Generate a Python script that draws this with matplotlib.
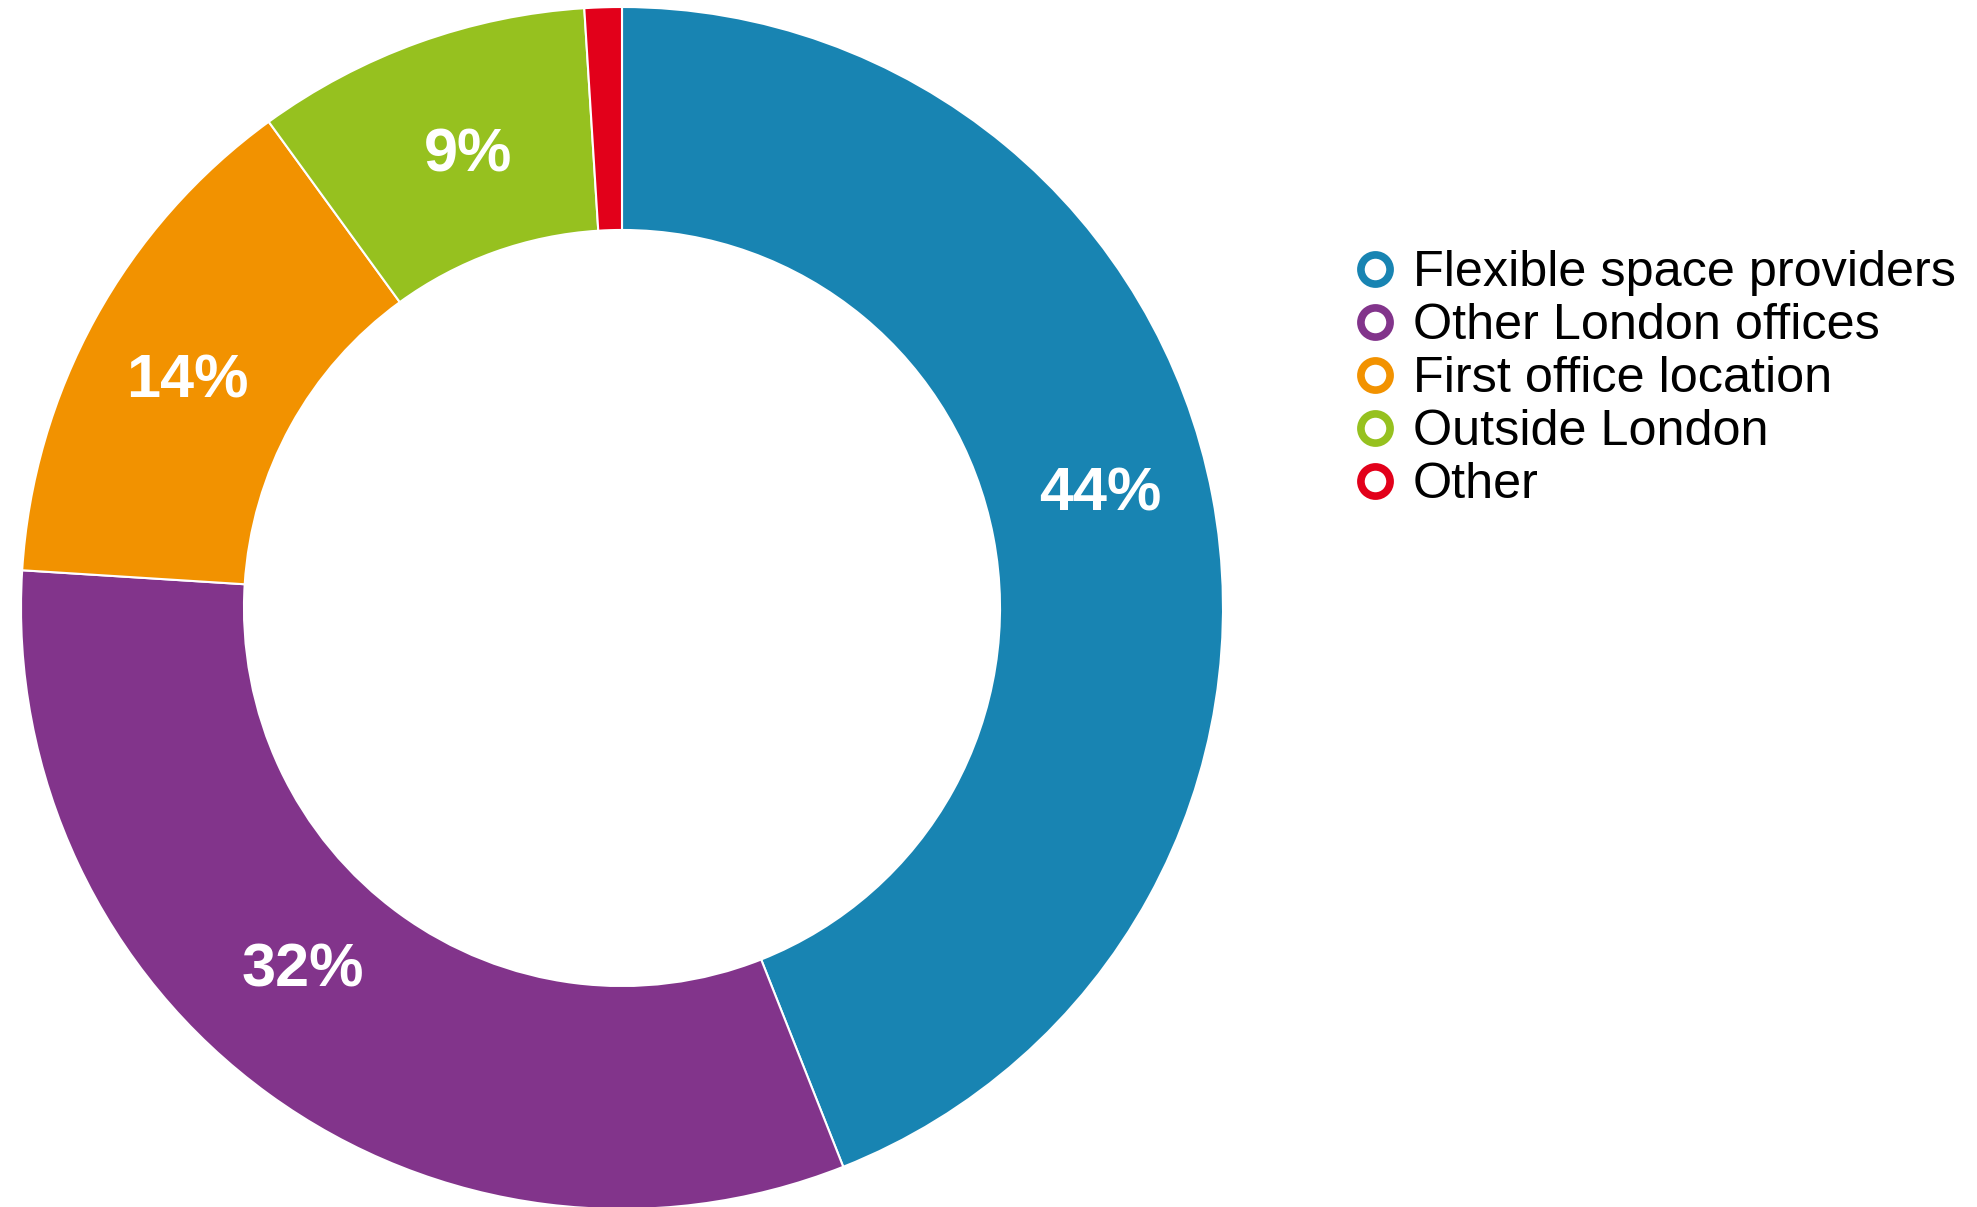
import numpy as np
import matplotlib.pyplot as plt
from matplotlib.lines import Line2D

labels = ['Flexible space providers', 'Other London offices', 'First office location',
          'Outside London', 'Other']
shares = [44, 32, 14, 9, 1]
colors = ['#1884b2', '#82348b', '#f29200', '#96c11f', '#e2001a']

# where the percentage text sits in each ring segment (angle nudge in degrees, radius)
label_nudge = [3.2, -5.8, 0.7, -1.3]
label_r = [0.821, 0.796, 0.820, 0.805]

fig = plt.figure(figsize=(19.77, 12.07), dpi=100)
ax = fig.add_axes([21 / 1977, -2 / 1207, 1202 / 1977, 1202 / 1207])

wedges, _ = ax.pie(
    shares, colors=colors, startangle=90, counterclock=False, radius=1,
    wedgeprops=dict(width=0.371, edgecolor='white', linewidth=1.5))
ax.set_xlim(-1, 1)
ax.set_ylim(-1, 1)

# the 1% slice is too thin for a label
for w, v, da, r in zip(wedges, shares, label_nudge, label_r):
    ang = np.deg2rad((w.theta1 + w.theta2) / 2 + da)
    ax.text(r * np.cos(ang), r * np.sin(ang), '%d%%' % v, color='white',
            fontsize=44, fontweight='bold', family='Liberation Sans',
            ha='center', va='center_baseline')

handles = [Line2D([], [], linestyle='none', marker='o', markersize=21,
                  markerfacecolor='white', markeredgecolor=c, markeredgewidth=5.5)
           for c in colors]
fig.legend(handles, labels, loc='upper left', bbox_to_anchor=(0.6852, 0.7927),
           frameon=False, borderpad=0, borderaxespad=0, labelspacing=0.14,
           handlelength=0.8, handletextpad=0.36,
           prop=dict(family='Liberation Sans', size=36.3))

fig.savefig('out.png', dpi=100)
